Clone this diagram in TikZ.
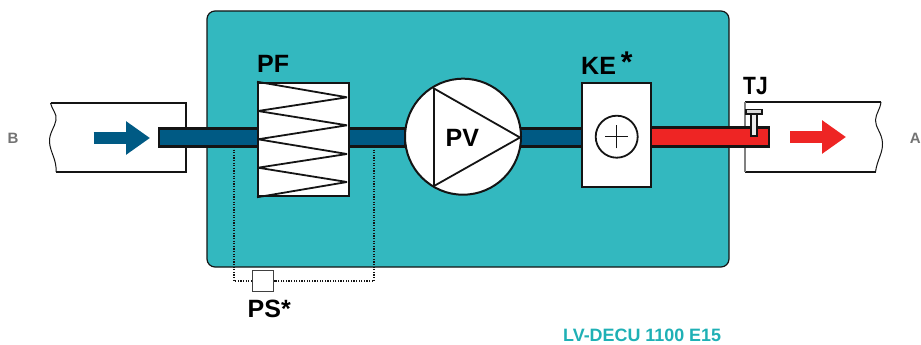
\documentclass[tikz,border=0pt]{standalone}
\usepackage{fontspec}
\setmainfont{Liberation Sans}
\usepackage{xcolor}
\usetikzlibrary{positioning, arrows.meta}
\definecolor{casingteal}{HTML}{33B8BF}
\definecolor{ductblue}{HTML}{005A84}
\definecolor{ductred}{HTML}{EE2524}
\definecolor{inkblack}{HTML}{141414}
\definecolor{capteal}{HTML}{1FB0B5}

\begin{document}
\begin{tikzpicture}[
      x=1pt, y=-1pt,
      casing/.style={draw=inkblack, line width=1.2pt, fill=casingteal, rounded corners=8pt, minimum width=522pt, minimum height=256pt, inner sep=0pt},
      duct/.style={draw=inkblack, line width=2.8pt, minimum height=18.5pt, inner sep=0pt},
      unit/.style={draw=inkblack, line width=2pt, fill=white, inner sep=0pt},
      tag/.style={font=\bfseries\fontsize{25}{25}\selectfont, text=black, inner sep=0pt, anchor=base west},
      side/.style={font=\bfseries\fontsize{15}{15}\selectfont, text=black!55, inner sep=0pt},
      outline/.style={draw=inkblack, line width=1.9pt},
      wave/.style={draw=inkblack, line width=1pt},
      flow/.style={line width=12.5pt, -{Triangle[length=24pt, width=32pt]}},
      sensorline/.style={draw=inkblack, line width=1.2pt, dash pattern=on 1.2pt off 1.4pt}
    ]
    \useasboundingbox (0,0) rectangle (921,345);

    % Outer ducts
    \path[fill=white] (56,172) -- (186,172) -- (186,103) -- (50.5,103)
      .. controls (52,110) and (57,113) .. (56,120)
      .. controls (55,127) and (49,133) .. (49.5,142)
      .. controls (50,152) and (57,160) .. (56,172);
    \draw[outline] (50.5,103) -- (186,103) -- (186,172) -- (56,172);
    \draw[wave] (50.5,103)
      .. controls (52,110) and (57,113) .. (56,120)
      .. controls (55,127) and (49,133) .. (49.5,142)
      .. controls (50,152) and (57,160) .. (56,172);
    \draw[outline] (745,102) -- (881,102);
    \draw[outline] (745,172) -- (875.5,172);
    \draw[wave] (875.5,172)
      .. controls (877,160) and (883,153) .. (882.5,143)
      .. controls (882,133) and (875,127) .. (875.5,120)
      .. controls (876,113) and (880,110) .. (881,102);
    \draw[draw=black!50, line width=1.4pt] (745,102) -- (745,172);

    % Casing
    \node[casing] (case) at (468,139) {};

    % Sensor tubes
    \coordinate (tapL) at (234,147);
    \coordinate (tapR) at (374,147);
    \node[unit, draw=black!75, line width=1.4pt, minimum width=20.5pt, minimum height=20.5pt] (ps) at (263,281) {};
    \draw[sensorline] (tapL) |- (ps.west);
    \draw[sensorline] (tapR) |- (ps.east);

    % Air path
    \node[duct, fill=ductblue, minimum width=246pt] (supply) at (282,137.5) {};
    \node[duct, fill=ductred, minimum width=118pt] (exhaust) at (710,137) {};
    \node[duct, fill=ductblue, minimum width=70pt] (mid) at (547,137.5) {};

    % Units
    \node[unit, minimum width=91pt, minimum height=113.5pt] (pf) at (303.5,139.5) {};
    \draw[draw=inkblack, line width=1.8pt, line join=bevel] (pf.north west) -- (347,97.3) -- (258,111) -- (347,125.3) -- (258,139.3) -- (347,154) -- (258,167.7) -- (347,182) -- (pf.south west);
    \node[unit, circle, minimum size=116pt] (pv) at (463,136.7) {};
    \draw[draw=inkblack, line width=1.8pt, line join=miter] (434,88.5) -- (520,137.5) -- (434,186) -- cycle;
    \node[unit, minimum width=69pt, minimum height=104.5pt] (ke) at (616.5,135) {};
    \node[circle, draw=inkblack, line width=1.8pt, minimum size=42pt, inner sep=0pt] (heater) at (616.7,136.7) {};
    \draw[draw=inkblack, line width=1.5pt] ([xshift=-11.7pt]heater.center) -- ([xshift=11.7pt]heater.center);
    \draw[draw=inkblack, line width=1.5pt] ([yshift=-11.7pt]heater.center) -- ([yshift=11.7pt]heater.center);

    % Temperature sensor
    \node[draw=inkblack, line width=1.8pt, fill=black!8, minimum width=6pt, minimum height=21.5pt, inner sep=0pt] (stem) at (753.7,125) {};
    \node[draw=inkblack, line width=1.8pt, fill=black!15, minimum width=16.5pt, minimum height=4.5pt, inner sep=0pt] (cap) at (754,111.7) {};

    % Flow arrows
    \coordinate (inA) at (93.5,138);
    \coordinate (inB) at (150,138);
    \coordinate (outA) at (790,137);
    \coordinate (outB) at (846,137);
    \draw[flow, ductblue] (inA) -- (inB);
    \draw[flow, ductred] (outA) -- (outB);

    % Labels
    \node[tag] (pflabel) at (257,72.7) {PF};
    \node[tag] (kelabel) at (581,74.3) {KE\raisebox{1.5pt}{\fontsize{30}{30}\selectfont\,*}};
    \node[tag] (tjlabel) at (743,95) {\scalebox{0.84}[1]{TJ}};
    \node[tag] (pslabel) at (247.5,317) {PS*};
    \node[tag] (pvlabel) at (445.5,146.5) {PV};
    \node[side] (blabel) at (13,138.5) {B};
    \node[side, anchor=east] (alabel) at (921,138.5) {A};
    \node[font=\bfseries\fontsize{17.9}{18}\selectfont, text=capteal, inner sep=0pt, anchor=base west] (model) at (563,341) {LV-DECU 1100 E15};
  \end{tikzpicture}
\end{document}
